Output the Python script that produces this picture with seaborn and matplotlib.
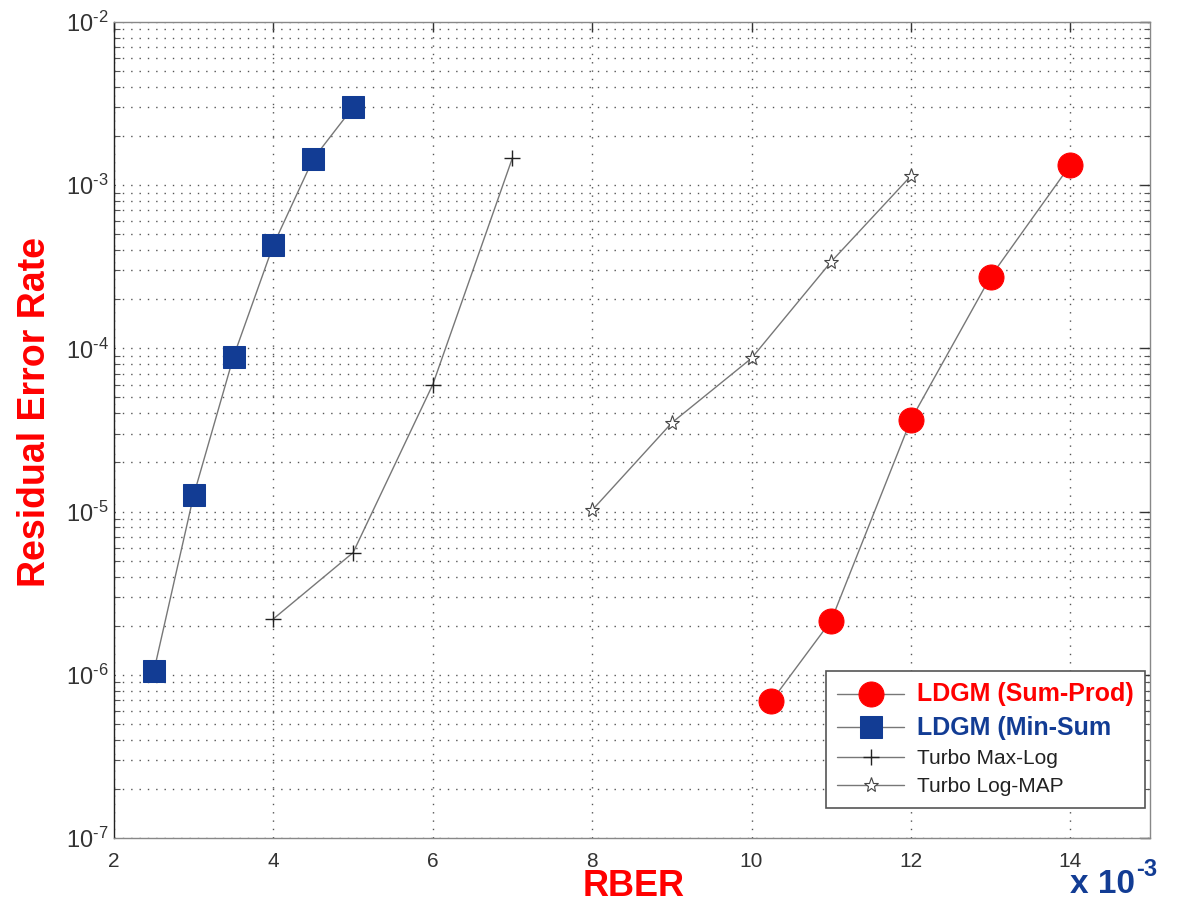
import numpy as np
import pandas as pd
import seaborn as sns
import matplotlib.pyplot as plt
from matplotlib.ticker import LogLocator, NullFormatter, MultipleLocator, FuncFormatter

# values (x in units of 1e-3)
sumprod_x = [10.25, 11, 12, 13, 14]
sumprod_y = [6.9e-7, 2.15e-6, 3.65e-5, 2.75e-4, 1.33e-3]
minsum_x = [2.5, 3, 3.5, 4, 4.5, 5]
minsum_y = [1.05e-6, 1.26e-5, 8.9e-5, 4.3e-4, 1.45e-3, 3.0e-3]
maxlog_x = [4, 5, 6, 7]
maxlog_y = [2.2e-6, 5.6e-6, 6.0e-5, 1.47e-3]
logmap_x = [8, 9, 10, 11, 12]
logmap_y = [1.02e-5, 3.5e-5, 8.7e-5, 3.4e-4, 1.14e-3]

labels = ['LDGM (Sum-Prod)', 'LDGM (Min-Sum', 'Turbo Max-Log', 'Turbo Log-MAP']

sns.set_style('white')
plt.rcParams['font.family'] = ['Liberation Sans', 'DejaVu Sans']
plt.rcParams['mathtext.fontset'] = 'custom'
plt.rcParams['mathtext.rm'] = 'Liberation Sans'
plt.rcParams['mathtext.bf'] = 'Liberation Sans:bold'

fig = plt.figure(figsize=(11.8, 9.15), dpi=100)
ax = fig.add_axes([0.0966, 0.0842, 0.878, 0.8918])

line_col = '#777777'
sns.lineplot(x=sumprod_x, y=sumprod_y, ax=ax, color=line_col, lw=1.0,
             marker='o', markersize=18, markerfacecolor='red', markeredgecolor='red',
             label=labels[0])
sns.lineplot(x=minsum_x, y=minsum_y, ax=ax, color=line_col, lw=1.0,
             marker='s', markersize=16, markerfacecolor='#123c94', markeredgecolor='#123c94',
             label=labels[1])
sns.lineplot(x=maxlog_x, y=maxlog_y, ax=ax, color=line_col, lw=1.0,
             marker='+', markersize=11, markeredgecolor='#222222', markeredgewidth=1.0,
             label=labels[2])
sns.lineplot(x=logmap_x, y=logmap_y, ax=ax, color=line_col, lw=1.0,
             marker='*', markersize=11, markerfacecolor='white', markeredgecolor='#444444',
             markeredgewidth=0.8, label=labels[3])

ax.set_yscale('log')
ax.set_xlim(2, 15)
ax.set_ylim(1e-7, 1e-2)
ax.xaxis.set_major_locator(MultipleLocator(2))
ax.yaxis.set_major_locator(LogLocator(base=10, numticks=10))
ax.yaxis.set_minor_locator(LogLocator(base=10, subs=np.arange(2, 10), numticks=20))
ax.yaxis.set_minor_formatter(NullFormatter())
ax.yaxis.set_major_formatter(FuncFormatter(
    lambda v, p: r'$\mathregular{10^{\text{-}%d}}$' % round(-np.log10(v))))

ax.grid(which='major', axis='both', color='#555555', linestyle=(0, (1, 5)), lw=1.0)
ax.grid(which='minor', axis='y', color='#555555', linestyle=(0, (1, 5)), lw=1.0)

for s in ax.spines.values():
    s.set_color('#888888')
    s.set_linewidth(1.0)
ax.spines['left'].set_color('#222222')

ax.tick_params(axis='both', which='major', direction='in', length=7, width=1,
               colors='#333333', pad=10, top=True, right=True)
ax.tick_params(axis='x', labelsize=15)
ax.tick_params(axis='y', labelsize=17, pad=4)
ax.tick_params(axis='y', which='minor', direction='in', length=4, width=0.8,
               colors='#555555', left=True, right=True)

ax.set_xlabel('')
ax.set_ylabel('')
fig.text(0.03, 0.55, 'Residual Error Rate', rotation=90, ha='center', va='center',
         color='red', fontsize=27, fontweight='bold')
fig.text(0.537, 0.031, 'RBER', ha='center', va='center',
         color='red', fontsize=26, fontweight='bold')
fig.text(0.962, 0.033, 'x 10', ha='right', va='center',
         color='#123c94', fontsize=24, fontweight='bold')
fig.text(0.963, 0.05, '-3', ha='left', va='center',
         color='#123c94', fontsize=17, fontweight='bold')

leg = ax.legend(loc='lower right', bbox_to_anchor=(1.005, 0.024), frameon=True,
                fancybox=False, edgecolor='#555555', framealpha=1.0,
                handlelength=3.2, borderpad=0.55, labelspacing=0.45,
                handletextpad=0.6, fontsize=15)
leg.get_frame().set_linewidth(1.2)
txts = leg.get_texts()
txts[0].set_color('red')
txts[0].set_fontweight('bold')
txts[0].set_fontsize(18)
txts[1].set_color('#123c94')
txts[1].set_fontweight('bold')
txts[1].set_fontsize(18)
txts[2].set_color('#222222')
txts[3].set_color('#222222')

fig.savefig('out.png', dpi=100)
